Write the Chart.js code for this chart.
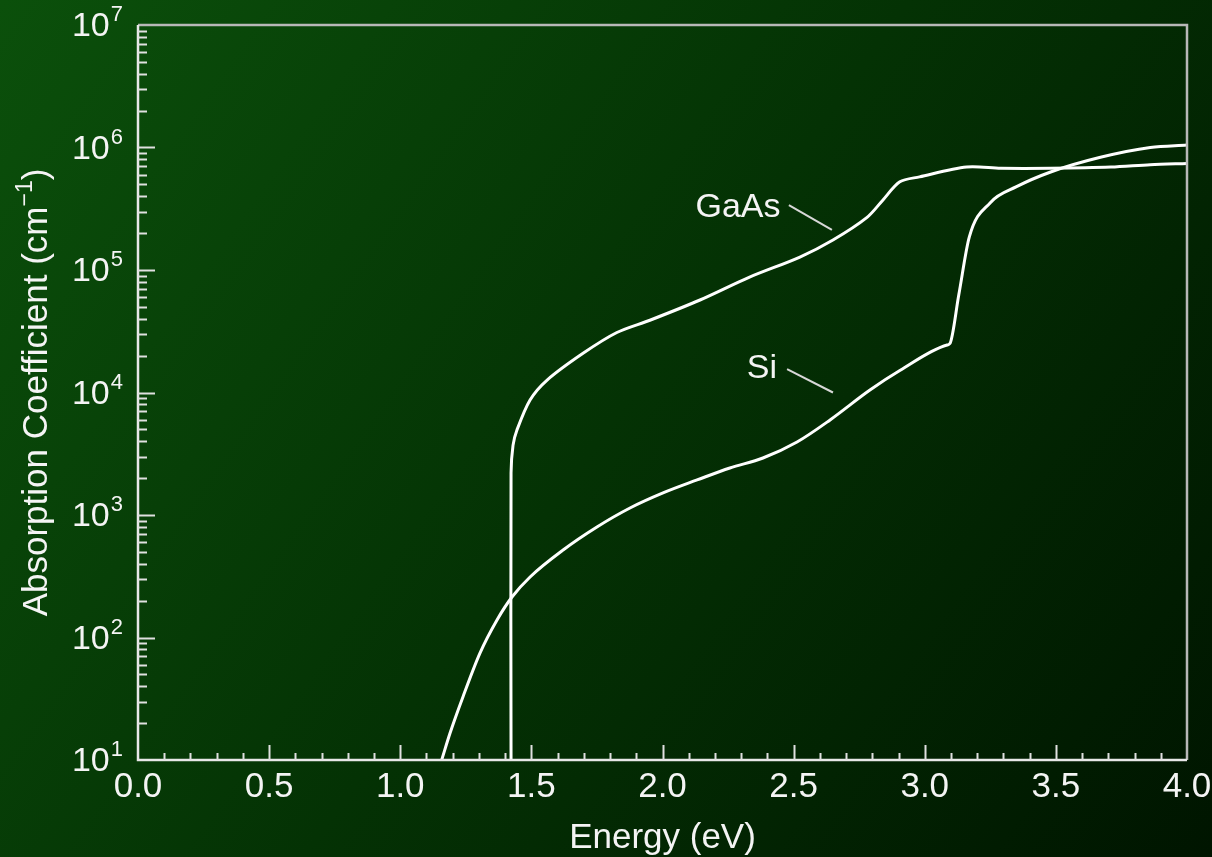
<!DOCTYPE html>
<html>
<head>
<meta charset="utf-8">
<script src="https://cdn.jsdelivr.net/npm/chart.js@4.4.1/dist/chart.umd.min.js"></script>
<style>
  html, body { margin: 0; padding: 0; background: #052f05; overflow: hidden; }
  canvas { display: block; }
</style>
</head>
<body>
<canvas id="c" width="1212" height="857"></canvas>
<script>
// ---- Data (energy in eV, absorption coefficient in cm^-1) ----
const gaasEnergy = [1.4225, 1.4225, 1.430, 1.445, 1.495, 1.560, 1.697, 1.826, 1.952, 2.143, 2.330, 2.524, 2.650, 2.780, 2.840, 2.905, 2.980, 3.160, 3.290, 3.480, 3.710, 3.860, 4.000];
const gaasAlpha  = [10, 2200, 3700, 4940, 8690, 12640, 20900, 30900, 38900, 56900, 87100, 127600, 175800, 269000, 371500, 524800, 575400, 691800, 676100, 676100, 691800, 724400, 741300];

const siEnergy = [1.158, 1.190, 1.239, 1.304, 1.369, 1.426, 1.495, 1.621, 1.750, 1.876, 2.002, 2.132, 2.257, 2.383, 2.513, 2.639, 2.791, 2.905, 3.085, 3.096, 3.130, 3.170, 3.250, 3.350, 3.480, 3.670, 3.860, 4.000];
const siAlpha  = [10, 16.6, 32.7, 74.6, 139, 214, 312, 518, 798, 1140, 1514, 1932, 2421, 2919, 3945, 5970, 10470, 15100, 24400, 25100, 63100, 186200, 354800, 478600, 631000, 831800, 1000000, 1047000];

// ---- Tick labels ----
const xTickValues = [0.0, 0.5, 1.0, 1.5, 2.0, 2.5, 3.0, 3.5, 4.0];
const xTickLabels = ['0.0', '0.5', '1.0', '1.5', '2.0', '2.5', '3.0', '3.5', '4.0'];
const yTickExponents = [1, 2, 3, 4, 5, 6, 7];

// ---- Curve labels (text, anchor in data units, leader line in data units) ----
const curveLabels = ['GaAs', 'Si'];
const curveLabelE = [2.288, 2.379];
const curveLabelA = [Math.pow(10, 5.514), Math.pow(10, 4.20)];
const leaderStartE = [2.482, 2.475];
const leaderStartA = [Math.pow(10, 5.53), Math.pow(10, 4.19)];
const leaderEndE = [2.646, 2.65];
const leaderEndA = [Math.pow(10, 5.327), Math.pow(10, 4.00)];

const FONT = '"Liberation Sans", Arial, Helvetica, sans-serif';
const TEXT = '#f4f4f4';

const toXY = (xs, ys) => xs.map((x, i) => ({ x: x, y: ys[i] }));

const bgPlugin = {
  id: 'bg',
  beforeDraw(chart) {
    const { ctx, width, height } = chart;
    const g = ctx.createLinearGradient(0, 0, width, height);
    g.addColorStop(0, '#0b500b');
    g.addColorStop(0.5, '#043204');
    g.addColorStop(1, '#001500');
    ctx.save();
    ctx.fillStyle = g;
    ctx.fillRect(0, 0, width, height);
    ctx.restore();
  }
};

const axesPlugin = {
  id: 'axesDraw',
  afterDatasetsDraw(chart) {
    const { ctx, chartArea: a, scales: { x, y } } = chart;
    ctx.save();
    // frame
    ctx.lineCap = 'butt';
    ctx.strokeStyle = '#b8b8b8';
    ctx.lineWidth = 2.5;
    ctx.beginPath();
    ctx.moveTo(a.left, a.top); ctx.lineTo(a.right, a.top); ctx.lineTo(a.right, a.bottom);
    ctx.stroke();
    ctx.strokeStyle = '#e8e8e8';
    ctx.beginPath();
    ctx.moveTo(a.left, a.top); ctx.lineTo(a.left, a.bottom); ctx.lineTo(a.right, a.bottom);
    ctx.stroke();

    // x ticks (inside, upward)
    ctx.strokeStyle = '#e0e0e0';
    ctx.lineWidth = 2;
    for (let i = 1; i < 40; i++) {
      const v = i / 10;
      const px = Math.round(x.getPixelForValue(v)) + 0.5;
      const len = (i % 5 === 0) ? 15 : 7;
      ctx.beginPath(); ctx.moveTo(px, a.bottom); ctx.lineTo(px, a.bottom - len); ctx.stroke();
    }
    // y ticks (inside, rightward)
    for (let d = 1; d <= 6; d++) {
      for (let m = 1; m <= 9; m++) {
        if (d === 1 && m === 1) continue;
        const v = m * Math.pow(10, d);
        const py = Math.round(y.getPixelForValue(v)) + 0.5;
        const len = (m === 1) ? 17 : 9;
        ctx.beginPath(); ctx.moveTo(a.left, py); ctx.lineTo(a.left + len, py); ctx.stroke();
      }
    }

    ctx.fillStyle = TEXT;
    // x tick labels
    ctx.font = '35px ' + FONT;
    ctx.textAlign = 'center';
    ctx.textBaseline = 'alphabetic';
    xTickValues.forEach((v, i) => {
      ctx.fillText(xTickLabels[i], x.getPixelForValue(v), 797);
    });
    // y tick labels 10^n
    yTickExponents.forEach(e => {
      const py = y.getPixelForValue(Math.pow(10, e));
      ctx.font = '22px ' + FONT;
      const ew = ctx.measureText(String(e)).width;
      ctx.textAlign = 'right';
      ctx.fillText(String(e), 123, py - 4);
      ctx.font = '34px ' + FONT;
      ctx.fillText('10', 123 - ew - 1, py + 11);
    });

    // x title
    ctx.font = '35px ' + FONT;
    ctx.textAlign = 'center';
    ctx.fillText('Energy (eV)', (a.left + a.right) / 2, 848);

    // y title (rotated, with superscript)
    ctx.save();
    ctx.translate(47, (a.top + a.bottom) / 2);
    ctx.rotate(-Math.PI / 2);
    const mainFont = '35px ' + FONT, supFont = '23px ' + FONT;
    const p1 = 'Absorption Coefficient (cm', p2 = '\u22121', p3 = ')';
    ctx.font = mainFont; const w1 = ctx.measureText(p1).width; const w3 = ctx.measureText(p3).width;
    ctx.font = supFont; const w2 = ctx.measureText(p2).width;
    let sx = -(w1 + w2 + w3) / 2;
    ctx.textAlign = 'left';
    ctx.font = mainFont; ctx.fillText(p1, sx, 0); sx += w1;
    ctx.font = supFont; ctx.fillText(p2, sx, -15); sx += w2;
    ctx.font = mainFont; ctx.fillText(p3, sx, 0);
    ctx.restore();

    // curve labels and leader lines
    ctx.font = '34px ' + FONT;
    ctx.textAlign = 'center';
    ctx.textBaseline = 'middle';
    ctx.strokeStyle = '#d8d8d8';
    ctx.lineWidth = 2;
    curveLabels.forEach((t, i) => {
      ctx.fillText(t, x.getPixelForValue(curveLabelE[i]), y.getPixelForValue(curveLabelA[i]) + 1);
      ctx.beginPath();
      ctx.moveTo(x.getPixelForValue(leaderStartE[i]), y.getPixelForValue(leaderStartA[i]));
      ctx.lineTo(x.getPixelForValue(leaderEndE[i]), y.getPixelForValue(leaderEndA[i]));
      ctx.stroke();
    });
    ctx.restore();
  }
};

new Chart(document.getElementById('c'), {
  type: 'line',
  data: {
    datasets: [
      { label: 'GaAs', data: toXY(gaasEnergy, gaasAlpha), borderColor: '#ffffff', borderWidth: 3, pointRadius: 0, tension: 0.3, fill: false },
      { label: 'Si', data: toXY(siEnergy, siAlpha), borderColor: '#ffffff', borderWidth: 3, pointRadius: 0, cubicInterpolationMode: 'monotone', fill: false }
    ]
  },
  options: {
    responsive: false,
    animation: false,
    layout: { padding: { top: 25, right: 25, left: 0, bottom: 0 } },
    plugins: { legend: { display: false }, tooltip: { enabled: false } },
    scales: {
      x: {
        type: 'linear', min: 0, max: 4,
        ticks: { display: false }, grid: { display: false }, border: { display: false },
        afterFit(s) { s.height = 97; }
      },
      y: {
        type: 'logarithmic', min: 10, max: 1e7,
        ticks: { display: false }, grid: { display: false }, border: { display: false },
        afterFit(s) { s.width = 138; }
      }
    }
  },
  plugins: [bgPlugin, axesPlugin]
});
</script>
</body>
</html>
